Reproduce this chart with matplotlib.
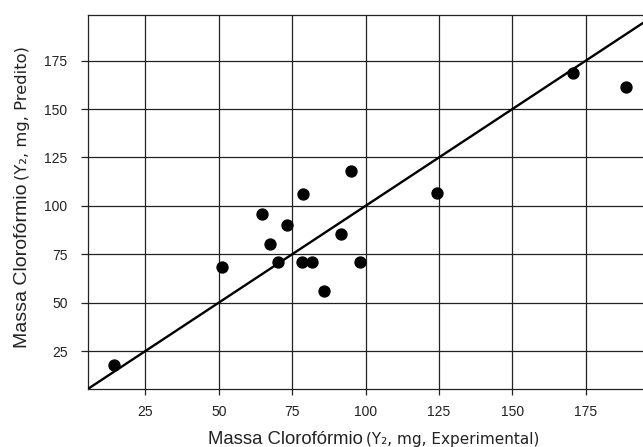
"""
plot.py - predicted vs experimental chloroform mass (Y2), parity plot
"""
import matplotlib
matplotlib.use("Agg")
import matplotlib.pyplot as plt

plt.rcParams["font.family"] = ["Liberation Sans", "DejaVu Sans"]

# values
exp_mg = [14.2, 51.2, 64.6, 67.6, 70.3, 73.3, 78.4, 78.8, 81.8, 85.8,
          91.6, 94.9, 98.2, 124.5, 170.8, 188.7]
pred_mg = [17.8, 68.6, 96.0, 80.5, 70.8, 90.3, 70.8, 106.0, 70.8, 56.0,
           85.5, 117.9, 70.8, 106.4, 168.4, 161.5]
ticks = [25, 50, 75, 100, 125, 150, 175]
parity = [0, 200]

W, H = 643, 447
fig = plt.figure(figsize=(W / 100, H / 100), dpi=100)
ax = fig.add_axes([87.5 / W, (H - 389) / H, 1 - 87.5 / W, (389 - 15) / H])

ax.set_xlim(5.3, 194.5)
ax.set_ylim(5.4, 198.6)
ax.set_xticks(ticks)
ax.set_yticks(ticks)
ax.grid(True, color="#222222", linewidth=0.9)
ax.set_axisbelow(True)

ax.plot(parity, parity, color="black", linewidth=1.7, zorder=3)
ax.scatter(exp_mg, pred_mg, s=62, color="black", zorder=4)

ax.spines["right"].set_visible(False)
for side in ("left", "top", "bottom"):
    ax.spines[side].set_color("#222222")
    ax.spines[side].set_linewidth(0.9)
ax.tick_params(axis="x", length=4.5, width=0.9, color="#222222", pad=7,
               labelsize=10, labelcolor="#222222")
ax.tick_params(axis="y", length=5, width=0.9, color="#222222", pad=9.4,
               labelsize=10, labelcolor="#222222")

# axis titles: big main part + smaller parenthetical, placed side by side
fig.canvas.draw()
r = fig.canvas.get_renderer()

xl_main = fig.text(208 / W, (H - 444) / H, "Massa Clorofórmio", fontsize=13.3,
                   ha="left", va="baseline", color="#222222")
bb = xl_main.get_window_extent(r)
fig.text((bb.x1 + 3) / W, (H - 444) / H, "(Y₂, mg, Experimental)",
         fontsize=11, family="DejaVu Sans", ha="left", va="baseline",
         color="#222222")

yl_main = fig.text(27 / W, (H - 348) / H, "Massa Clorofórmio", fontsize=14,
                   rotation=90, rotation_mode="anchor", ha="left",
                   va="baseline", color="#222222")
bb = yl_main.get_window_extent(r)
fig.text(27 / W, (bb.y1 + 3) / H, "(Y₂, mg, Predito)", fontsize=11.8,
         family="DejaVu Sans", rotation=90, rotation_mode="anchor",
         ha="left", va="baseline", color="#222222")

fig.savefig("out.png", dpi=100)
